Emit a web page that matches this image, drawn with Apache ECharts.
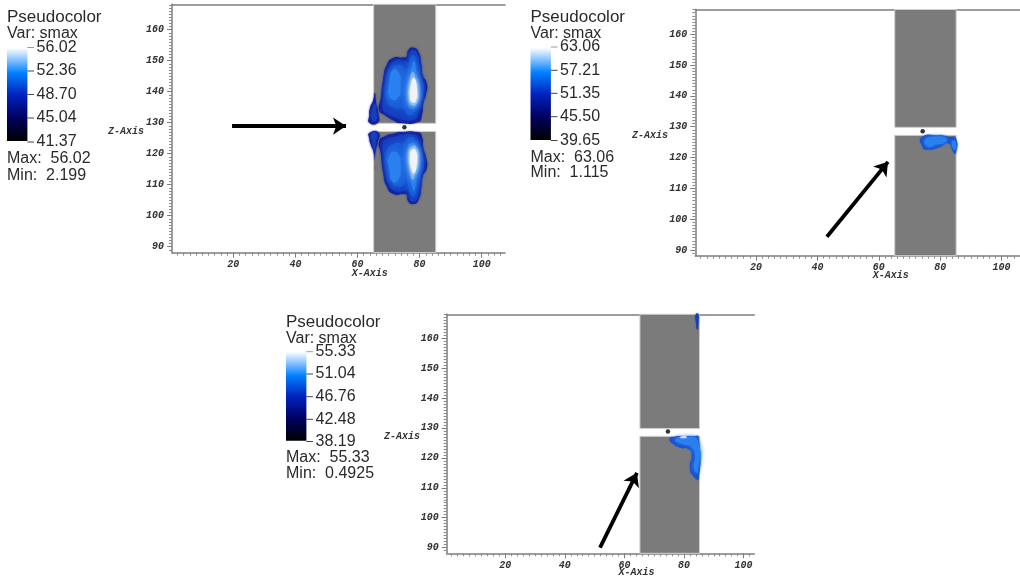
<!DOCTYPE html>
<html>
<head>
<meta charset="utf-8">
<style>html,body{margin:0;padding:0;background:#fff}#c{width:1020px;height:578px}</style>
<script src="https://cdn.jsdelivr.net/npm/echarts@6/dist/echarts.min.js"></script>
</head>
<body>
<div id="c"></div>
<script>
// tick values
const xTicks = [20, 40, 60, 80, 100];
const yTicks = [90, 100, 110, 120, 130, 140, 150, 160];
const xMinor = [2,4,6,8,10,12,14,16,18,22,24,26,28,30,32,34,36,38,42,44,46,48,50,52,54,56,58,62,64,66,68,70,72,74,76,78,82,84,86,88,90,92,94,96,98,102,104,106];
const yMinor = [89,91,92,93,94,95,96,97,98,99,101,102,103,104,105,106,107,108,109,111,112,113,114,115,116,117,118,119,121,122,123,124,125,126,127,128,129,131,132,133,134,135,136,137,138,139,141,142,143,144,145,146,147,148,149,151,152,153,154,155,156,157,158,159,161,162,163,164,165,166,167,168];

// legend texts
const legendTitle = 'Pseudocolor';
const legendVar = 'Var: smax';
const legend1Labels = ['56.02', '52.36', '48.70', '45.04', '41.37'];
const legend2Labels = ['63.06', '57.21', '51.35', '45.50', '39.65'];
const legend3Labels = ['55.33', '51.04', '46.76', '42.48', '38.19'];
const legend1Stats = ['Max:  56.02', 'Min:  2.199'];
const legend2Stats = ['Max:  63.06', 'Min:  1.115'];
const legend3Stats = ['Max:  55.33', 'Min:  0.4925'];

// colour levels
const cEdge = '#15209a', cL2 = '#1440c0', cL3 = '#1a5cd8', cL4 = '#2a80ee', cL5 = '#7ab4f0', cL6 = '#f0f4fa';

// masked band (data units)
const bandUpper = [[65.2,129.8],[85.2,129.8],[85.2,168.3],[65.2,168.3]];
const bandLower = [[65.2,88.1],[85.2,88.1],[85.2,127.2],[65.2,127.2]];

// plot 1 contours
const p1UpL1 = [[67.0,134.0],[67.5,137.8],[68.3,144.2],[69.4,148.5],[71.5,150.9],[74.8,151.0],[75.8,151.2],[76.4,153.4],[78.0,154.2],[79.6,152.9],[80.5,149.1],[81.0,145.3],[82.3,142.6],[82.1,139.4],[81.2,136.2],[80.7,132.4],[79.6,130.3],[73.7,129.9],[71.5,130.8],[68.9,132.4]];
const p1UpL2 = [[68.1,134.6],[68.5,138.9],[69.2,144.2],[70.3,148.0],[72.1,150.0],[75.0,150.0],[76.4,149.6],[76.7,152.3],[78.0,153.4],[79.3,152.1],[79.9,148.5],[80.5,144.8],[81.4,142.1],[81.0,138.9],[80.1,135.6],[79.3,132.4],[78.2,131.0],[74.2,131.0],[72.1,131.9],[69.6,133.0]];
const p1UpL3 = [[69.4,137.3],[69.9,142.6],[71.0,147.0],[72.6,148.5],[74.8,148.0],[75.6,144.8],[76.4,148.5],[77.8,151.8],[78.8,150.2],[79.4,145.3],[80.1,141.5],[79.6,137.3],[78.5,133.5],[76.4,132.4],[74.8,134.6],[72.1,134.6]];
const p1UpL4a = [[70.3,138.4],[70.4,143.7],[71.3,147.0],[73.0,146.6],[73.9,142.1],[72.8,137.8]];
const p1UpL4b = [[76.2,137.0],[76.5,142.6],[77.3,147.4],[78.2,150.0],[79.1,145.0],[79.9,140.5],[79.0,135.4],[77.0,134.6]];
const p1UpL5 = [[76.5,138.0],[76.8,142.6],[77.8,146.4],[78.9,143.2],[79.6,140.0],[78.8,135.8],[77.2,135.8]];
const p1UpL6 = [[76.9,138.6],[77.3,142.8],[78.2,144.4],[79.1,141.0],[78.7,136.8],[77.4,136.8]];
const p1UpSideA = [[63.8,132.4],[64.0,134.6],[65.1,137.3],[65.6,139.6],[66.0,136.2],[66.7,133.0],[66.5,130.0],[63.8,130.0]];
const p1UpSideB = [[64.5,131.3],[64.7,134.0],[65.5,136.2],[66.0,133.5],[66.0,130.8]];

const p1LoL1 = [[67.0,124.0],[67.5,120.2],[68.3,113.8],[69.4,109.5],[71.5,107.1],[74.8,107.0],[75.8,106.8],[76.4,104.6],[78.0,103.8],[79.6,105.1],[80.5,108.9],[81.0,112.7],[82.3,115.4],[82.1,118.6],[81.2,121.8],[80.7,125.6],[79.6,126.8],[73.7,126.9],[71.5,126.4],[68.9,125.6]];
const p1LoL2 = [[68.1,123.4],[68.5,119.1],[69.2,113.8],[70.3,110.0],[72.1,108.0],[75.0,108.0],[76.4,108.4],[76.7,105.7],[78.0,104.6],[79.3,105.9],[79.9,109.5],[80.5,113.2],[81.4,115.9],[81.0,119.1],[80.1,122.4],[79.3,125.0],[78.2,126.0],[74.2,126.0],[72.1,125.4],[69.6,124.8]];
const p1LoL3 = [[69.4,120.7],[69.9,115.4],[71.0,111.0],[72.6,109.5],[74.8,110.0],[75.6,113.2],[76.4,109.5],[77.8,106.2],[78.8,107.8],[79.4,112.7],[80.1,116.5],[79.6,120.7],[78.5,124.5],[76.4,125.2],[74.8,123.4],[72.1,123.4]];
const p1LoL4a = [[70.3,119.6],[70.4,114.3],[71.3,111.0],[73.0,111.4],[73.9,115.9],[72.8,120.2]];
const p1LoL4b = [[76.2,121.0],[76.5,115.4],[77.3,110.6],[78.2,108.0],[79.1,113.0],[79.9,117.5],[79.0,122.6],[77.0,123.4]];
const p1LoL5 = [[76.5,120.0],[76.8,115.4],[77.8,111.6],[78.9,114.8],[79.6,118.0],[78.8,122.2],[77.2,122.2]];
const p1LoL6 = [[76.9,119.4],[77.3,115.2],[78.2,113.6],[79.1,117.0],[78.7,121.2],[77.4,121.2]];
const p1LoSideA = [[63.8,126.7],[66.8,126.7],[66.4,123.3],[65.7,120.0],[65.7,114.9],[65.3,120.0],[64.2,123.1],[63.8,124.9]];
const p1LoSideB = [[64.5,126.4],[66.2,126.4],[65.8,123.5],[65.4,121.0],[64.8,123.5]];

// plot 2 contours
const p2L1 = [[74.0,126.6],[79.4,127.2],[82.7,126.7],[85.1,126.2],[85.1,121.4],[84.3,121.9],[82.7,124.6],[79.9,123.4],[75.6,122.6],[74.2,123.6]];
const p2L3 = [[75.1,125.8],[79.4,126.8],[82.1,126.2],[81.6,124.9],[78.9,124.2],[76.1,123.6]];
const p2L3b = [[83.7,124.9],[84.9,125.4],[84.9,122.4]];

// plot 3 contours
const p3Top = [[84.0,168.1],[84.8,168.1],[84.8,165.3],[84.5,162.9],[84.0,165.3]];
const p3L1 = [[75.1,126.3],[77.0,127.1],[79.8,127.2],[83.1,127.2],[84.9,126.9],[84.9,113.0],[83.1,114.0],[82.0,116.8],[82.6,120.8],[81.8,122.8],[78.6,123.5],[76.4,124.7]];
const p3L3 = [[77.0,126.1],[80.3,126.9],[84.6,125.8],[84.6,115.2],[83.3,116.3],[83.7,120.8],[82.6,123.5],[79.2,124.7]];
const p3L6 = [[78.6,126.8],[80.3,127.2],[80.9,126.8]];

// probe markers and arrows
const p1Dot = [[75.1, 128.5]];
const p2Dot = [[74.3, 128.5]];
const p3Dot = [[74.6, 128.8]];
const p1Arrow = [[19.6, 128.9], [56.3, 128.9]];
const p2Arrow = [[43.1, 94.3], [63.0, 118.6]];
const p3Arrow = [[51.8, 90.0], [64.2, 115.0]];

const plots = [
  {left:172,  top:4.3,   width:333,   height:248.4, xr:[0.26,107.5], yr:[88.06,168.2],
   contours:[[p1UpSideA,cEdge,2],[p1UpSideB,cL2,3],[p1LoSideA,cEdge,2],[p1LoSideB,cL2,3],
             [p1UpL1,cEdge,1.5],[p1UpL2,cL2,4],[p1UpL3,cL3,6],[p1UpL4a,cL4,9],[p1UpL4b,cL4,8],[p1UpL5,cL5,7],[p1UpL6,cL6,5],
             [p1LoL1,cEdge,1.5],[p1LoL2,cL2,4],[p1LoL3,cL3,6],[p1LoL4a,cL4,9],[p1LoL4b,cL4,8],[p1LoL5,cL5,7],[p1LoL6,cL6,5]],
   dot:p1Dot, arrow:p1Arrow},
  {left:695.3,top:9.5,   width:324.7, height:246.2, xr:[0.23,106],   yr:[88.15,168.05],
   contours:[[p2L1,'#1a50d0',1.5],[p2L3,cL4,4],[p2L3b,cL4,3]], dot:p2Dot, arrow:p2Arrow},
  {left:446.7,top:314.3, width:307.6, height:239,   xr:[0.33,103.6], yr:[88.1,168],
   contours:[[p3Top,cL2,1.5],[p3L1,'#1a50d0',1.5],[p3L3,cL4,5],[p3L6,cL6,2]], dot:p3Dot, arrow:p3Arrow}
];

const axisGray = '#7d7d7d';
const labelFont = {fontFamily:'Liberation Mono', fontWeight:'bold', fontStyle:'italic', fontSize:10, color:'#333'};
const grid = [], xAxis = [], yAxis = [], series = [];

plots.forEach((p, g) => {
  grid.push({left:p.left, top:p.top, width:p.width, height:p.height, containLabel:false});
  const xBase = {gridIndex:g, type:'value', min:p.xr[0], max:p.xr[1], splitLine:{show:false}, scale:true};
  const yBase = {gridIndex:g, type:'value', min:p.yr[0], max:p.yr[1], splitLine:{show:false}, scale:true};
  const xMain = xAxis.length, yMain = yAxis.length;
  xAxis.push(Object.assign({}, xBase, {position:'bottom',
    axisLine:{show:true, onZero:false, lineStyle:{color:axisGray, width:1.5}},
    axisTick:{show:true, length:5, customValues:xTicks, lineStyle:{color:axisGray}},
    axisLabel:{show:true, margin:7, customValues:xTicks, ...labelFont}}));
  xAxis.push(Object.assign({}, xBase, {position:'bottom',
    axisLine:{show:false},
    axisTick:{show:true, length:3, customValues:xMinor, lineStyle:{color:'#8c8c8c'}},
    axisLabel:{show:false}}));
  xAxis.push(Object.assign({}, xBase, {position:'top',
    axisLine:{show:true, onZero:false, lineStyle:{color:axisGray, width:1.5}},
    axisTick:{show:false}, axisLabel:{show:false}}));
  yAxis.push(Object.assign({}, yBase, {position:'left',
    axisLine:{show:true, onZero:false, lineStyle:{color:axisGray, width:1.5}},
    axisTick:{show:true, length:5, customValues:yTicks, lineStyle:{color:axisGray}},
    axisLabel:{show:true, margin:8, customValues:yTicks, ...labelFont}}));
  yAxis.push(Object.assign({}, yBase, {position:'left',
    axisLine:{show:false},
    axisTick:{show:true, length:3, customValues:yMinor, lineStyle:{color:'#8c8c8c'}},
    axisLabel:{show:false}}));

  const poly = (pts, fill, opts) => ({
    type:'custom', xAxisIndex:xMain, yAxisIndex:yMain, data:pts, silent:true, animation:false,
    clip:false, z:opts.z, encode:{x:0, y:1},
    renderItem:(params, api) => {
      if (params.dataIndex !== 0) return;
      return {type:'polygon',
        shape:{points:pts.map(q => api.coord(q)), smooth:opts.smooth},
        style:{fill, stroke:opts.stroke, lineWidth:opts.stroke ? 1 : 0,
               shadowBlur:opts.blur, shadowColor:opts.blur ? fill : 'transparent'}};
    }
  });
  series.push(poly(bandUpper.map(q => [q[0], Math.min(q[1], p.yr[1])]), '#7b7b7b', {z:2, smooth:0, stroke:'#cfcfcf', blur:0}));
  series.push(poly(bandLower.map(q => [q[0], Math.max(q[1], p.yr[0])]), '#7b7b7b', {z:2, smooth:0, stroke:'#cfcfcf', blur:0}));
  p.contours.forEach(c => series.push(poly(c[0], c[1], {z:3, smooth:0.6, blur:c[2]})));
  series.push({type:'scatter', xAxisIndex:xMain, yAxisIndex:yMain, data:p.dot, symbolSize:4.5,
    itemStyle:{color:'#000'}, silent:true, animation:false, z:5});
  series.push({type:'lines', coordinateSystem:'cartesian2d', xAxisIndex:xMain, yAxisIndex:yMain,
    polyline:false, data:[{coords:p.arrow}], symbol:['none','arrow'], symbolSize:13,
    lineStyle:{color:'#000', width:3.8, opacity:1, curveness:0}, silent:true, animation:false, z:6});
});

// legends and axis titles
const elements = [];
const sans = '17px "Liberation Sans"';
const sansNum = '16px "Liberation Sans"';
const text = (s, x, y, font, fill, align) => elements.push({type:'text', silent:true, z:20, style:{
  text:s, x, y, font, fill:fill || '#2a2a2a', textAlign:align || 'left', textVerticalAlign:'middle'}});

const ramp = [[0,'#ffffff'],[0.27,'#0080ff'],[0.5,'#0024c0'],[0.75,'#000060'],[1,'#000000']];
function legend(x, yTitle, yVar, barTop, barBottom, labels, labelYs, stats, statYs) {
  text(legendTitle, x, yTitle, sans);
  text(legendVar, x, yVar, sansNum);
  elements.push({type:'rect', silent:true, z:20,
    shape:{x:x, y:barTop, width:20.4, height:barBottom-barTop},
    style:{fill:{type:'linear', x:0, y:0, x2:0, y2:1,
      colorStops:ramp.map(r => ({offset:r[0], color:r[1]}))}}});
  labels.forEach((s, i) => {
    text(s, x + 29.5, labelYs[i], sansNum);
    elements.push({type:'line', silent:true, z:20,
      shape:{x1:x + 20.4, y1:labelYs[i], x2:x + 27, y2:labelYs[i]},
      style:{stroke: i === 0 ? '#999' : '#444', lineWidth:1}});
  });
  stats.forEach((s, i) => text(s, x, statYs[i], sansNum));
}
legend(7,   17,    34,  48,    141,   legend1Labels, [47.5,71,94.5,118,142],  legend1Stats, [158.5,175.5]);
legend(530.5,17.5, 34,  47.7,  140,   legend2Labels, [47,70.3,93.3,116.7,140.5], legend2Stats, [158,173]);
legend(286, 322.3, 339, 351.7, 440.7, legend3Labels, [351.7,374,396.7,419.3,441.5], legend3Stats, [457.7,473.3]);

const monoFont = 'italic bold 10px "Liberation Mono"';
text('X-Axis', 369.8, 273.3, monoFont, '#333', 'center');
text('Z-Axis', 126, 131.7, monoFont, '#333', 'center');
text('X-Axis', 890.7, 275.7, monoFont, '#333', 'center');
text('Z-Axis', 650, 135, monoFont, '#333', 'center');
text('X-Axis', 636.5, 572.7, monoFont, '#333', 'center');
text('Z-Axis', 402, 436.7, monoFont, '#333', 'center');

const chart = echarts.init(document.getElementById('c'), null, {renderer:'canvas', width:1020, height:578});
chart.setOption({animation:false, backgroundColor:'#fff', grid, xAxis, yAxis, series, graphic:{elements}});
</script>
</body>
</html>
